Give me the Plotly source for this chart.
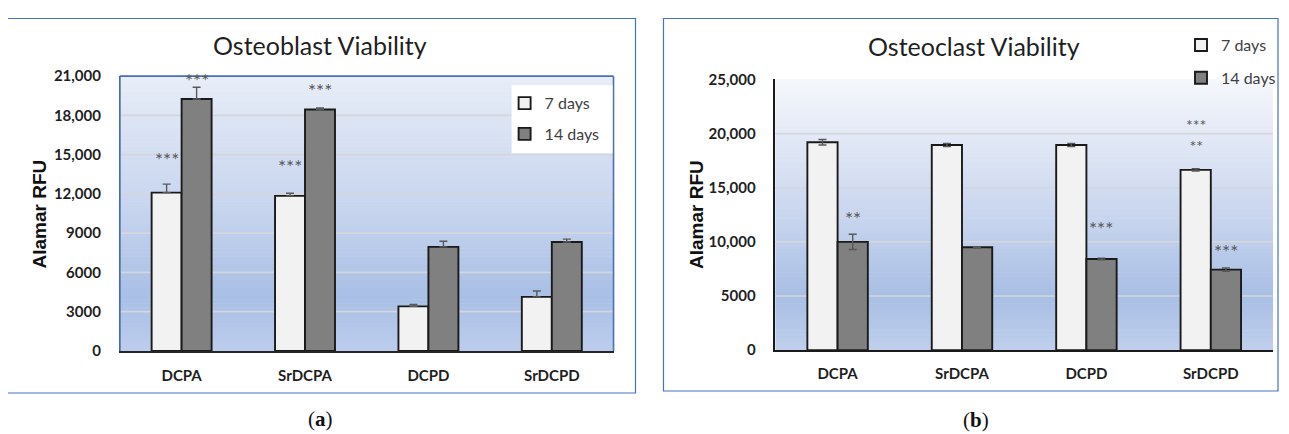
import plotly.graph_objects as go

# ---------------- data ----------------
categories = ["DCPA", "SrDCPA", "DCPD", "SrDCPD"]
series_names = ["7 days", "14 days"]

# Osteoblast viability (Alamar RFU)
ob_7 = [12100, 11850, 3400, 4130]
ob_7_err = [650, 200, 150, 450]
ob_14 = [19250, 18450, 7950, 8320]
ob_14_err = [900, 120, 430, 220]

# Osteoclast viability (Alamar RFU)
oc_7 = [19200, 18950, 18950, 16650]
oc_7_err = [250, 150, 150, 100]
oc_14 = [10000, 9500, 8420, 7435]
oc_14_err = [700, 60, 80, 150]

ob_tickvals = [0, 3000, 6000, 9000, 12000, 15000, 18000, 21000]
ob_ticktext = ["0", "3000", "6000", "9000", "12,000", "15,000", "18,000", "21,000"]
oc_tickvals = [0, 5000, 10000, 15000, 20000, 25000]
oc_ticktext = ["0", "5000", "10,000", "15,000", "20,000", "25,000"]

# significance marks: (category, series index, text, label height in RFU)
ob_sig = [("DCPA", 0, "***", 14700), ("DCPA", 1, "***", 20730),
          ("SrDCPA", 0, "***", 14150), ("SrDCPA", 1, "***", 19970)]
oc_sig = [("DCPA", 1, "**", 12280), ("DCPD", 1, "***", 11350),
          ("SrDCPD", 1, "***", 9190)]
oc_sig_stacked = [("SrDCPD", 0, "***<br>**", 20000)]

# ---------------- layout helpers ----------------
W, H = 1273, 434
OX = 8
VY0, VS = 18.0, 0.956   # observed vertical placement of the rendered page
def px(x):
    return (x - OX) / W
def py(y):
    f = (y - VY0) / VS
    return 1 - f / H

L_x = [px(120), px(614)]
L_y = [py(350), py(76)]
R_x = [px(776), px(1274)]
R_y = [py(349.3), py(79.3)]

fill_7 = "#f2f2f2"
fill_14 = "#808080"
edge = "#1a1a1a"
err_col = "#595959"

fig = go.Figure()

def add_bars(vals, errs, name, color, xa, ya, legend, group, symmetric):
    ey = dict(type="data", array=errs, color=err_col, thickness=1.4, width=4)
    if symmetric:
        ey["symmetric"] = True
    else:
        ey["symmetric"] = False
        ey["arrayminus"] = [0] * len(errs)
    fig.add_trace(go.Bar(
        x=categories, y=vals, name=name, xaxis=xa, yaxis=ya,
        marker=dict(color=color, line=dict(color=edge, width=1.9)),
        error_y=ey, legend=legend, legendgroup=group, hoverinfo="y",
    ))

add_bars(ob_7, ob_7_err, series_names[0], fill_7, "x", "y", "legend", "a7", False)
add_bars(ob_14, ob_14_err, series_names[1], fill_14, "x", "y", "legend", "a14", False)
add_bars(oc_7, oc_7_err, series_names[0], fill_7, "x2", "y2", "legend2", "b7", True)
add_bars(oc_14, oc_14_err, series_names[1], fill_14, "x2", "y2", "legend2", "b14", True)

shapes = []

# gradient plot backgrounds
def hex2rgb(h):
    h = h.lstrip("#")
    return [int(h[i:i + 2], 16) for i in (0, 2, 4)]

def grad_color(t, stops):
    for (t0, c0), (t1, c1) in zip(stops[:-1], stops[1:]):
        if t0 <= t <= t1:
            f = (t - t0) / (t1 - t0) if t1 > t0 else 0
            a, b = hex2rgb(c0), hex2rgb(c1)
            return "rgb(%d,%d,%d)" % tuple(round(a[i] + (b[i] - a[i]) * f) for i in range(3))
    return stops[-1][1]

stops_L = [(0.0, "#e8eef8"), (0.15, "#dde5f4"), (0.5, "#c6d4ee"), (0.8, "#a9bfe5"), (1.0, "#bccced")]
stops_R = [(0.0, "#f5f7fc"), (0.15, "#e8edf7"), (0.5, "#c9d6ee"), (0.8, "#a8bee4"), (1.0, "#bfcfec")]
N = 70
for xa, ya, stops in (("x", "y", stops_L), ("x2", "y2", stops_R)):
    for i in range(N):
        t = (i + 0.5) / N  # from top
        shapes.append(dict(type="rect", xref=xa + " domain", yref=ya + " domain",
                           x0=0, x1=1, y0=1 - (i + 1) / N, y1=1 - i / N + 0.002,
                           fillcolor=grad_color(t, stops), line=dict(width=0), layer="below"))

# gridlines
for xa, ya, vals in (("x", "y", ob_tickvals[1:-1]), ("x2", "y2", oc_tickvals[1:-1])):
    for v in vals:
        shapes.append(dict(type="line", xref=xa + " domain", yref=ya, x0=0, x1=1, y0=v, y1=v,
                           line=dict(color="#d3d6dc", width=1.6), layer="below"))

# left plot-area border (left, top, right)
blue = "#4a70b8"
for (x0, y0, x1, y1) in ((0, 0, 0, 1), (0, 1, 1, 1), (1, 0, 1, 1)):
    shapes.append(dict(type="line", xref="x domain", yref="y domain", x0=x0, y0=y0, x1=x1, y1=y1,
                       line=dict(color=blue, width=1.6), layer="above"))

# left legend white box
shapes.append(dict(type="rect", xref="paper", yref="paper", x0=px(512), x1=px(613),
                   y0=py(153), y1=py(85), fillcolor="white", line=dict(width=0), layer="above"))

# panel frames
for (x0, y0, x1, y1) in ((7, 18.5, 636, 392), (664, 18.5, 1279, 390)):
    shapes.append(dict(type="rect", xref="paper", yref="paper", x0=px(x0), x1=px(x1),
                       y0=py(y1), y1=min(py(y0), 0.999), line=dict(color="#4472c4", width=1.2),
                       fillcolor="rgba(0,0,0,0)", layer="above"))

annotations = []
title_font = dict(family="Lato", size=25, color="#1f1f1f")
annotations.append(dict(text="Osteoblast Viability", x=px(320), y=py(45), xref="paper", yref="paper",
                        showarrow=False, font=title_font, xanchor="center", yanchor="middle"))
annotations.append(dict(text="Osteoclast Viability", x=px(975), y=py(46), xref="paper", yref="paper",
                        showarrow=False, font=title_font, xanchor="center", yanchor="middle"))
ytitle_font = dict(family="Liberation Sans", size=19, color="#111111", weight="bold")
annotations.append(dict(text="Alamar RFU", x=px(40), y=py(213), xref="paper", yref="paper",
                        showarrow=False, textangle=-90, font=ytitle_font,
                        xanchor="center", yanchor="middle"))
annotations.append(dict(text="Alamar RFU", x=px(697), y=py(214), xref="paper", yref="paper",
                        showarrow=False, textangle=-90, font=ytitle_font,
                        xanchor="center", yanchor="middle"))
cap_font = dict(family="Liberation Serif", size=21, color="#111111")
annotations.append(dict(text="(<b>a</b>)", x=px(321), y=py(418), xref="paper", yref="paper",
                        showarrow=False, font=cap_font, xanchor="center", yanchor="middle"))
annotations.append(dict(text="(<b>b</b>)", x=px(977), y=py(419), xref="paper", yref="paper",
                        showarrow=False, font=cap_font, xanchor="center", yanchor="middle"))

sig_font = dict(family="Lato", size=19, color="#595959")
for xa, ya, sigs in (("x", "y", ob_sig), ("x2", "y2", oc_sig)):
    for cat, s, txt, yv in sigs:
        annotations.append(dict(text=txt, x=cat, y=yv, xref=xa, yref=ya, showarrow=False,
                                xshift=-15 if s == 0 else 15, yshift=-1, font=sig_font,
                                xanchor="center", yanchor="middle"))
stack_font = dict(family="Lato", size=16, color="#595959")
for cat, s, txt, yv in oc_sig_stacked:
    annotations.append(dict(text=txt, x=cat, y=yv, xref="x2", yref="y2", showarrow=False,
                            xshift=-15 if s == 0 else 15, yshift=-1, font=stack_font,
                            xanchor="center", yanchor="middle", align="center"))

tick_font = dict(family="Lato", size=15, color="#1f1f1f", weight="bold")
xtick_font = dict(family="Lato", size=15, color="#1f1f1f", weight="bold")
leg_font = dict(family="Lato", size=16, color="#404040")

fig.update_layout(
    width=W, height=H, margin=dict(l=0, r=0, t=0, b=0),
    paper_bgcolor="white", plot_bgcolor="rgba(0,0,0,0)",
    barmode="group", bargap=0.514, bargroupgap=0,
    showlegend=True,
    xaxis=dict(domain=L_x, anchor="y", showline=True, linecolor="#262626", linewidth=2,
               ticks="", tickfont=xtick_font, showgrid=False, ticklabelstandoff=10),
    yaxis=dict(domain=L_y, anchor="x", range=[0, 21000], tickvals=ob_tickvals, ticktext=ob_ticktext,
               showgrid=False, zeroline=False, showline=True, linecolor="#404040", linewidth=1,
               ticks="", tickfont=tick_font, ticklabelstandoff=15),
    xaxis2=dict(domain=R_x, anchor="y2", showline=True, linecolor="#1a1a1a", linewidth=2,
                ticks="", tickfont=xtick_font, showgrid=False, ticklabelstandoff=9),
    yaxis2=dict(domain=R_y, anchor="x2", range=[0, 25000], tickvals=oc_tickvals, ticktext=oc_ticktext,
                showgrid=False, zeroline=False, showline=True, linecolor="#1a1a1a", linewidth=1.6,
                ticks="", tickfont=tick_font, ticklabelstandoff=15),
    legend=dict(x=px(505), y=py(86), xanchor="left", yanchor="top", bgcolor="rgba(0,0,0,0)",
                font=leg_font, traceorder="grouped", tracegroupgap=7),
    legend2=dict(x=px(1182), y=py(28), xanchor="left", yanchor="top", bgcolor="rgba(0,0,0,0)",
                 font=leg_font, traceorder="grouped", tracegroupgap=9),
    shapes=shapes, annotations=annotations,
)

fig.write_html("out.html")
